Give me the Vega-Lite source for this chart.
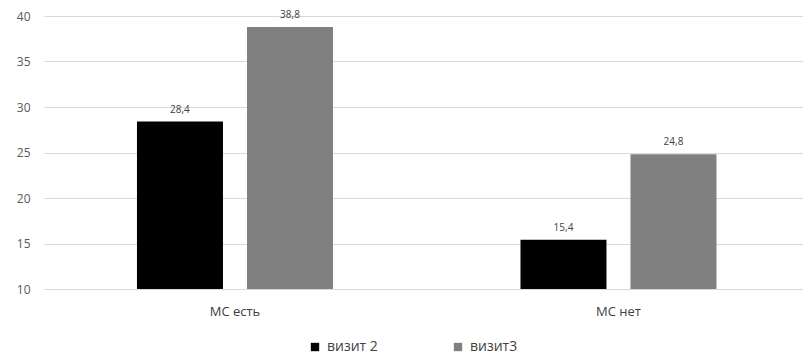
{
  "$schema": "https://vega.github.io/schema/vega-lite/v6.json",
  "autosize": "none",
  "width": 759,
  "height": 273,
  "padding": {"left": 44, "top": 16, "right": 0, "bottom": 69},
  "background": "white",
  "config": {
    "locale": {"number": {"decimal": ",", "thousands": " ", "grouping": [3], "currency": ["", ""]}},
    "font": "Open Sans",
    "view": {"stroke": null}
  },
  "data": {
    "values": [
      {"group": "МС есть", "visit": "визит 2", "value": 28.4},
      {"group": "МС есть", "visit": "визит3", "value": 38.8},
      {"group": "МС нет", "visit": "визит 2", "value": 15.4},
      {"group": "МС нет", "visit": "визит3", "value": 24.8}
    ]
  },
  "encoding": {
    "x": {
      "field": "group",
      "type": "nominal",
      "sort": null,
      "title": null,
      "scale": {"paddingInner": 0.4889, "paddingOuter": 0.234, "align": 0.518},
      "axis": {
        "domain": false,
        "ticks": false,
        "labelAngle": 0,
        "labelPadding": 16,
        "labelFontSize": 13,
        "labelColor": "#404040"
      }
    },
    "xOffset": {
      "field": "visit",
      "type": "nominal",
      "sort": null,
      "scale": {"paddingInner": 0.2182, "paddingOuter": 0}
    },
    "y": {
      "field": "value",
      "type": "quantitative",
      "title": null,
      "scale": {"domain": [10, 40], "nice": false, "zero": false},
      "axis": {
        "values": [10, 15, 20, 25, 30, 35, 40],
        "domain": false,
        "ticks": false,
        "labelPadding": 14,
        "labelFontSize": 12,
        "labelColor": "#595959",
        "gridColor": "#d9d9d9",
        "gridWidth": 1
      }
    }
  },
  "layer": [
    {
      "mark": {"type": "bar"},
      "encoding": {
        "y2": {"datum": 10},
        "color": {
          "field": "visit",
          "type": "nominal",
          "sort": null,
          "scale": {"domain": ["визит 2", "визит3"], "range": ["#000000", "#808080"]},
          "legend": {
            "title": null,
            "orient": "none",
            "direction": "horizontal",
            "legendX": 264,
            "legendY": 324,
            "symbolType": "square",
            "symbolSize": 70,
            "symbolStrokeWidth": 0,
            "labelFontSize": 14,
            "labelColor": "#404040",
            "labelOffset": 5,
            "columnPadding": 73
          }
        }
      }
    },
    {
      "mark": {"type": "text", "baseline": "bottom", "dy": -7, "fontSize": 10, "color": "#404040"},
      "encoding": {
        "text": {"field": "value", "type": "quantitative", "format": ".1f"}
      }
    }
  ]
}
